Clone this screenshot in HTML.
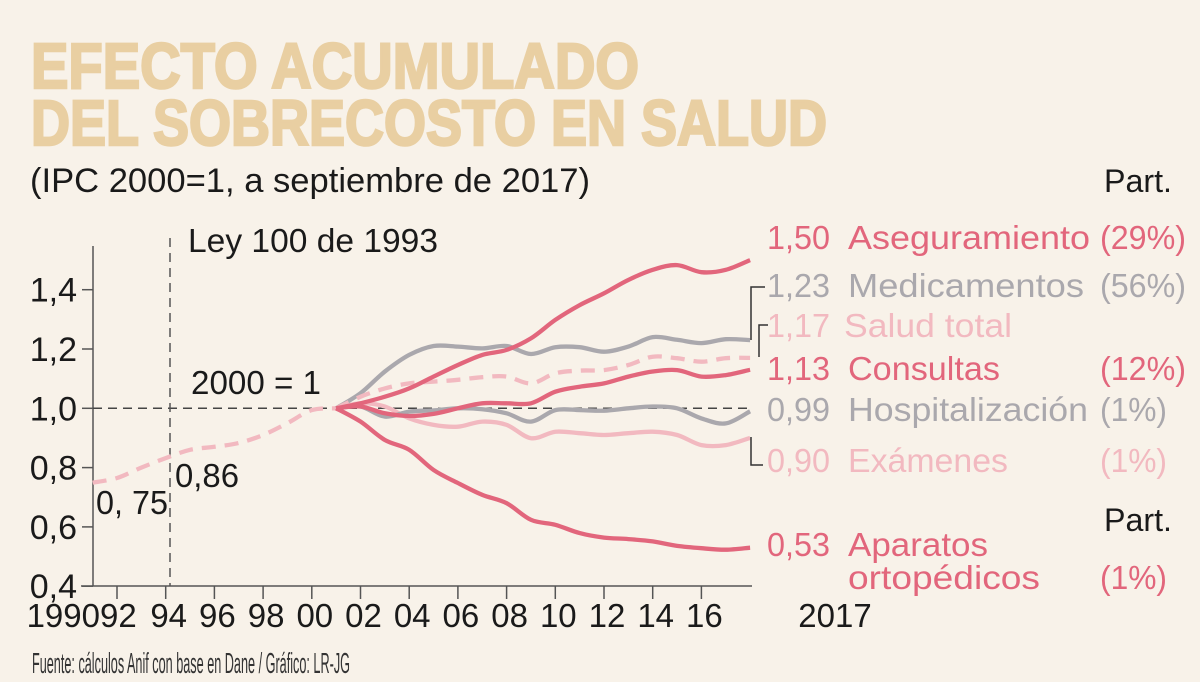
<!DOCTYPE html>
<html><head><meta charset="utf-8"><style>
html,body{margin:0;padding:0;background:#f8f2e9;}
svg{display:block;font-family:"Liberation Sans",sans-serif;}
</style></head><body>
<svg id="chart" width="1200" height="682" viewBox="0 0 1200 682">
<rect width="1200" height="682" fill="#f8f2e9"/>
<g fill="#e9cfa2" stroke="#e9cfa2" stroke-width="2.5" font-weight="bold" font-size="64">
<text x="31" y="88" textLength="608" lengthAdjust="spacingAndGlyphs">EFECTO ACUMULADO</text>
<text x="31" y="145" textLength="796" lengthAdjust="spacingAndGlyphs">DEL SOBRECOSTO EN SALUD</text>
</g>
<text x="30" y="192" font-size="34" fill="#1a1a1a" textLength="560" lengthAdjust="spacingAndGlyphs">(IPC 2000=1, a septiembre de 2017)</text>
<text x="1104" y="192" font-size="32" fill="#1a1a1a" textLength="68" lengthAdjust="spacingAndGlyphs">Part.</text>
<g id="axes"></g>
<g id="series"></g>
<g id="labels" font-size="33"></g>
<text x="32" y="673" font-size="29" fill="#333" textLength="318" lengthAdjust="spacingAndGlyphs">Fuente: cálculos Anif con base en Dane / Gráfico: LR-JG</text>
</svg>
<script>
const years = [2001,2002,2003,2004,2005,2006,2007,2008,2009,2010,2011,2012,2013,2014,2015,2016,2017,2018];
const aseguramiento = [1.00,1.017,1.039,1.067,1.107,1.146,1.180,1.197,1.236,1.298,1.348,1.388,1.433,1.467,1.483,1.459,1.467,1.50];
const medicamentos = [1.00,1.051,1.124,1.180,1.210,1.208,1.202,1.210,1.183,1.206,1.206,1.191,1.208,1.240,1.231,1.220,1.233,1.23];
const saludTotal = [1.00,1.039,1.067,1.084,1.090,1.096,1.105,1.107,1.084,1.118,1.127,1.129,1.146,1.174,1.169,1.157,1.169,1.17];
const consultas = [1.00,1.006,0.983,0.974,0.981,1.00,1.017,1.017,1.017,1.056,1.073,1.084,1.107,1.124,1.129,1.107,1.112,1.13];
const hospitalizacion = [1.00,1.006,0.972,0.989,0.993,1.00,0.997,0.983,0.955,0.994,0.994,0.992,1.00,1.006,1.00,0.966,0.949,0.99];
const examenes = [1.00,1.017,1.006,0.966,0.944,0.938,0.955,0.944,0.899,0.921,0.916,0.910,0.916,0.921,0.910,0.876,0.876,0.90];
const aparatos = [1.00,0.955,0.893,0.860,0.792,0.748,0.708,0.680,0.624,0.607,0.579,0.564,0.559,0.551,0.536,0.528,0.523,0.53];
const earlyYears = [1991,1992,1993,1994,1995,1996,1997,1998,1999,2000,2001];
const saludEarly = [0.749,0.765,0.80,0.832,0.86,0.87,0.883,0.91,0.95,0.994,1.0];
const yTicks = [0.4,0.6,0.8,1.0,1.2,1.4];
const yTickLabels = ["0,4","0,6","0,8","1,0","1,2","1,4"];
const xTickYears = [1992,1994,1996,1998,2000,2002,2004,2006,2008,2010,2012,2014,2016];
const xTickLabels = ["92","94","96","98","00","02","04","06","08","10","12","14","16"];

const NS="http://www.w3.org/2000/svg";
function X(yr){return 117+(yr-1992)*24.35;}
function Y(v){return 408.3-(v-1)*296.5;}
function mk(tag,attrs,parent){const e=document.createElementNS(NS,tag);for(const k in attrs)e.setAttribute(k,attrs[k]);parent.appendChild(e);return e;}
function smooth(pts){let d="M"+pts[0][0].toFixed(1)+","+pts[0][1].toFixed(1);
 for(let i=0;i<pts.length-1;i++){const p0=pts[i-1]||pts[i],p1=pts[i],p2=pts[i+1],p3=pts[i+2]||p2;
  const c1=[p1[0]+(p2[0]-p0[0])/6,p1[1]+(p2[1]-p0[1])/6],c2=[p2[0]-(p3[0]-p1[0])/6,p2[1]-(p3[1]-p1[1])/6];
  d+=" C"+c1[0].toFixed(1)+","+c1[1].toFixed(1)+" "+c2[0].toFixed(1)+","+c2[1].toFixed(1)+" "+p2[0].toFixed(1)+","+p2[1].toFixed(1);}
 return d;}

const ax=document.getElementById('axes');
let e;
e=mk('line',{x1:93,y1:246,x2:93,y2:586,stroke:'#555','stroke-width':1.5},ax);


e=mk('line',{x1:81,y1:586,x2:752,y2:586,stroke:'#555','stroke-width':1.5},ax);


yTicks.forEach((v,i)=>{
 e=mk('line',{x1:82,y1:Y(v),x2:93,y2:Y(v),stroke:'#555','stroke-width':1.5},ax);
 
 
 e=mk('text',{x:77,y:Y(v)+12,'font-size':34,fill:'#1a1a1a','text-anchor':'end'},ax);
 e.textContent=yTickLabels[i];
 
 
});
xTickYears.forEach((yr,i)=>{
 e=mk('line',{x1:X(yr),y1:586,x2:X(yr),y2:599,stroke:'#555','stroke-width':1.5},ax);
 
 
 e=mk('text',{x:i===0?100:X(yr)+3,y:627,'font-size':33,fill:'#1a1a1a','text-anchor':i===0?'start':'middle'},ax);
 e.textContent=xTickLabels[i];
 
 
});
e=mk('text',{x:100,y:627,'font-size':33,fill:'#1a1a1a','text-anchor':'end'},ax);
e.textContent="1990";


e=mk('text',{x:835,y:627,'font-size':33,fill:'#1a1a1a','text-anchor':'middle'},ax);
e.textContent="2017";


e=mk('line',{x1:93,y1:Y(1),x2:752,y2:Y(1),stroke:'#444','stroke-width':1.5,'stroke-dasharray':'9 6'},ax);


e=mk('line',{x1:170,y1:238,x2:170,y2:586,stroke:'#555','stroke-width':1.5,'stroke-dasharray':'9 6'},ax);


[["Ley 100 de 1993",188,252,'ley-100-label',250],["2000 = 1",191,394,'base-year-label',130],["0, 75",96,514,'value-1990-label',72],["0,86",175,487,'value-1994-label',64]].forEach(a=>{
 e=mk('text',{x:a[1],y:a[2],'font-size':33,fill:'#1a1a1a',textLength:a[4],lengthAdjust:'spacingAndGlyphs'},ax);
 e.textContent=a[0];
 
 
});

const RED='#e2667c',GRAY='#aaa8ad',PINK='#f2b9c0';
const sg=document.getElementById('series');
function line(ys,arr,color,name,dash){
 const pts=ys.map((yr,i)=>[X(yr),Y(arr[i])]);
 const p=mk('path',{d:smooth(pts),fill:'none',stroke:color,'stroke-width':4.3,'stroke-linecap':'butt','stroke-linejoin':'round'},sg);
 if(dash)p.setAttribute('stroke-dasharray',dash);
 
 
}
line(earlyYears,saludEarly,PINK,'line-salud-total-early','14 9');
line(years,examenes,PINK,'line-examenes');
line(years,hospitalizacion,GRAY,'line-hospitalizacion');
line(years,medicamentos,GRAY,'line-medicamentos');
line(years,saludTotal,PINK,'line-salud-total','14 9');
line(years,consultas,RED,'line-consultas');
line(years,aparatos,RED,'line-aparatos-ortopedicos');
line(years,aseguramiento,RED,'line-aseguramiento');

const lg=document.getElementById('labels');
[[751,287,751,340,765,287],[759,325,759,357,768,325],[751,437,751,465,763,465]].forEach((b,i)=>{
 const d = i<2 ? `M${b[0]},${b[3]} L${b[0]},${b[1]} L${b[4]},${b[5]}` : `M${b[0]},${b[1]} L${b[0]},${b[3]} L${b[4]},${b[5]}`;
 e=mk('path',{d:d,fill:'none',stroke:'#333','stroke-width':1.5},lg);
 
 
});
const labelRows=[
 ["1,50","Aseguramiento","(29%)",249,RED,'aseguramiento',242],
 ["1,23","Medicamentos","(56%)",297,GRAY,'medicamentos',236],
 ["1,17","Salud total","",337,PINK,'salud-total',168],
 ["1,13","Consultas","(12%)",380,RED,'consultas',152],
 ["0,99","Hospitalización","(1%)",421,GRAY,'hospitalizacion',240],
 ["0,90","Exámenes","(1%)",472,PINK,'examenes',160],
 ["0,53","Aparatos","",556,RED,'aparatos',140],
 ["","ortopédicos","(1%)",589,RED,'ortopedicos',192]
];
labelRows.forEach(r=>{
 if(r[0]){e=mk('text',{x:767,y:r[3],fill:r[4],textLength:63,lengthAdjust:'spacingAndGlyphs'},lg);e.textContent=r[0];
  
  }
 e=mk('text',{x:r[5]==='salud-total'?844:848,y:r[3],fill:r[4],textLength:r[6],lengthAdjust:'spacingAndGlyphs'},lg);e.textContent=r[1];
 
 
 if(r[2]){e=mk('text',{x:1100,y:r[3],fill:r[4],textLength:r[2].length===5?86:67,lengthAdjust:'spacingAndGlyphs'},lg);e.textContent=r[2];
  
  }
});
e=mk('text',{x:1104,y:531,fill:'#1a1a1a','font-size':32,textLength:68,lengthAdjust:'spacingAndGlyphs'},lg);
e.textContent="Part.";


</script>
</body></html>
